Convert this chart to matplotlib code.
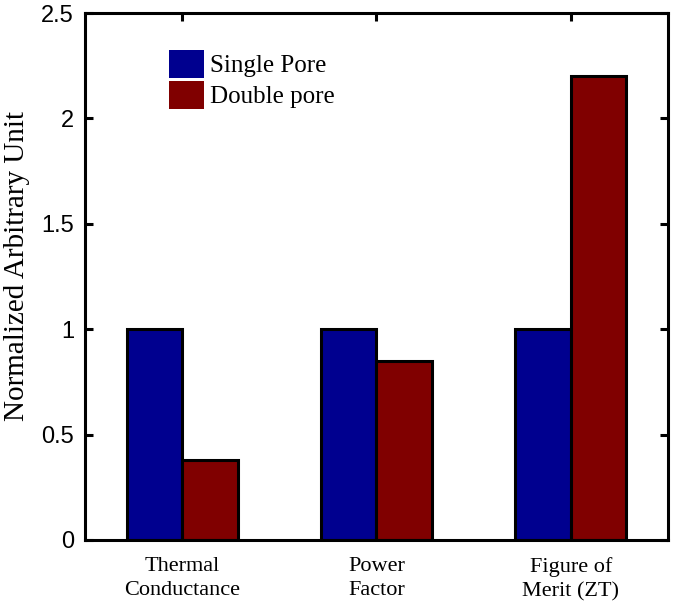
import numpy as np
import matplotlib
matplotlib.use("Agg")
import matplotlib.pyplot as plt

categories = ["Thermal\nConductance", "Power\nFactor", "Figure of\nMerit (ZT)"]
single_pore = [1.0, 1.0, 1.0]
double_pore = [0.38, 0.85, 2.2]
series_names = ["Single Pore", "Double pore"]

blue = "#00008F"
red = "#800000"

fig = plt.figure(figsize=(6.75, 6.09), dpi=100)
ax = fig.add_axes([85/675, 1-540/609, (668-85)/675, (540-13)/609])

x = np.arange(1, len(categories) + 1)
w = 0.2857
ax.bar(x - w/2, single_pore, w, color=blue, edgecolor="black", linewidth=2.2, label=series_names[0])
ax.bar(x + w/2, double_pore, w, color=red, edgecolor="black", linewidth=2.2, label=series_names[1])

ax.set_xlim(0.5, 3.5)
ax.set_ylim(0, 2.5)
ax.set_yticks([0, 0.5, 1, 1.5, 2, 2.5])
ax.set_yticklabels(["0", "0.5", "1", "1.5", "2", "2.5"], family="Liberation Sans", fontsize=17)
ax.set_xticks(x)
ax.set_xticklabels(categories, family="Liberation Serif", fontsize=16, linespacing=1.4)
ax.tick_params(direction="in", length=6, width=2.2, top=True, right=True)
ax.tick_params(axis="y", pad=8)
ax.tick_params(axis="x", pad=12)
for s in ax.spines.values():
    s.set_linewidth(2.2)

ax.set_ylabel("Normalized Arbitrary Unit", family="Liberation Serif", fontsize=21)
ax.yaxis.set_label_coords(-0.094, 0.52)

leg = ax.legend(loc="upper left", bbox_to_anchor=(169/675, 1-50/609), bbox_transform=fig.transFigure,
                frameon=False, borderpad=0, borderaxespad=0, handlelength=1.4, handleheight=1.35,
                handletextpad=0.25, labelspacing=0.1, prop={"family": "Liberation Serif", "size": 18})
for h in leg.legend_handles:
    h.set_linewidth(0)

fig.savefig("out.png", dpi=100)
